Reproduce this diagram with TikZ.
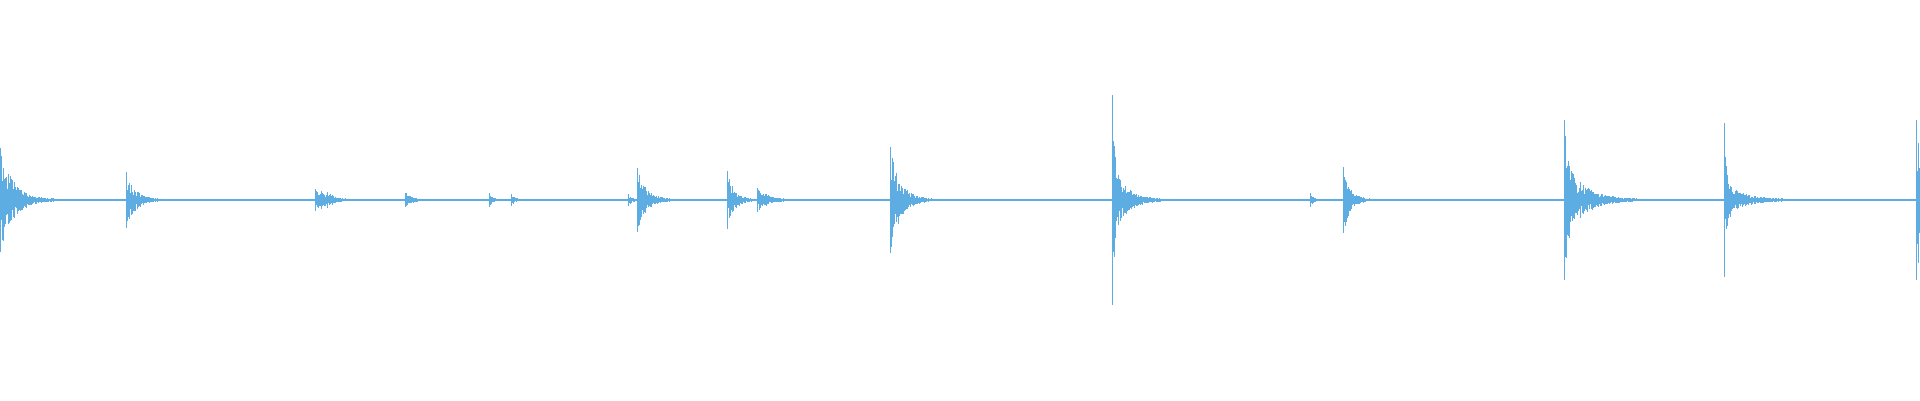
\documentclass[tikz,border=0pt]{standalone}
\definecolor{wave}{HTML}{5DADE2}
\tikzset{wv/.style={draw=wave,line width=0.6pt}}
\newcommand{\myburst}[4]{%
  \draw[wv] (#1,200+#2) -- (#1,200-#2);
  \draw[wv] (#1+0.6,200+0.9*#2) -- (#1+0.6,200-0.95*#2);
  \pgfmathtruncatemacro{\nn}{#4/0.6}%
  \foreach \i in {2,...,\nn}{%
    \pgfmathsetmacro{\xx}{#1+\i*0.6}%
    \pgfmathsetmacro{\aa}{#2*exp(-\i*0.6/#3)*(0.3+0.7*rnd)+0.8}%
    \pgfmathsetmacro{\bb}{#2*exp(-\i*0.6/#3)*(0.3+0.7*rnd)+0.8}%
    \draw[wv] (\xx,200+\aa) -- (\xx,200-\bb);
  }}
\begin{document}
\begin{tikzpicture}[x=1pt,y=1pt]
\pgfmathsetseed{7}
\useasboundingbox (0,0) rectangle (1920,400);
\fill[white] (0,0) rectangle (1920,400);
\draw[wave,line width=1.1pt] (0,200) -- (1920,200);
\myburst{0}{52}{13}{55}
\myburst{126}{28}{9}{45}
\myburst{315}{11}{8}{30}
\myburst{321}{9}{8}{25}
\myburst{327}{8}{8}{25}
\myburst{405}{7}{6}{20}
\myburst{489}{7}{3}{10}
\myburst{511}{6}{3}{10}
\myburst{628}{6}{3}{10}
\myburst{637}{32}{9}{55}
\myburst{727}{29}{7}{35}
\myburst{757}{12}{10}{40}
\myburst{890}{53}{10}{55}
\myburst{1112}{105}{4}{20}
\myburst{1118}{25}{13}{55}
\myburst{1310}{7}{3}{10}
\myburst{1343}{33}{7}{45}
\myburst{1564}{80}{8}{30}
\myburst{1580}{18}{18}{70}
\myburst{1724}{77}{4}{18}
\myburst{1728}{15}{18}{65}
\myburst{1916}{80}{10}{4}
\end{tikzpicture}
\end{document}
